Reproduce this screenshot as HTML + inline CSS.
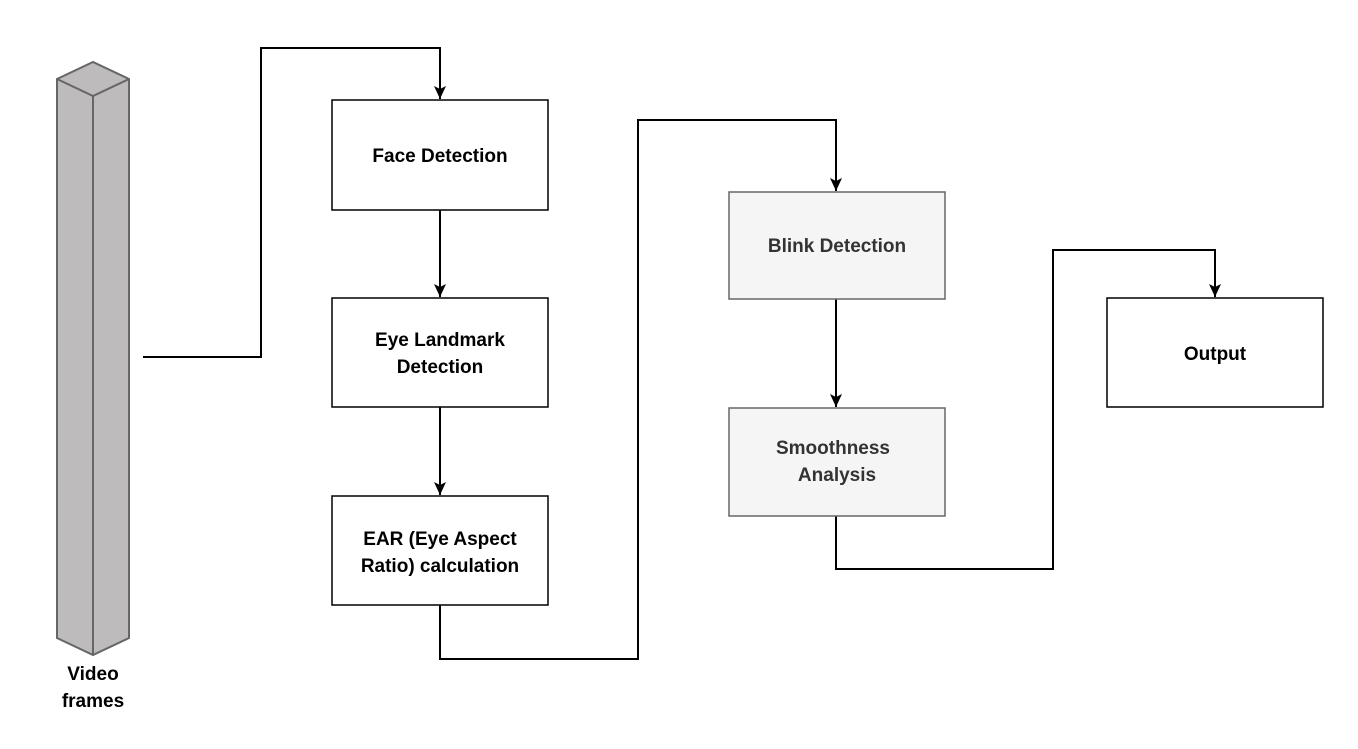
<!DOCTYPE html>
<html><head><style>
body{margin:0;background:#fff;}
svg text{font-family:"Liberation Sans",sans-serif;font-weight:bold;font-size:19px;text-anchor:middle;}
</style></head><body>
<svg width="1358" height="744" xmlns="http://www.w3.org/2000/svg">
<defs><marker id="a" markerWidth="14" markerHeight="12" refX="13" refY="6" orient="auto" markerUnits="userSpaceOnUse"><path d="M0,0 L13,6 L0,12 L3,6 Z" fill="#000"/></marker></defs>
<g stroke="#666" stroke-width="2" fill="#bdbbbc">
<path d="M57,79 L93,62 L129,79 L129,638 L93,655 L57,638 Z"/>
<path d="M57,79 L93,96 L129,79 M93,96 L93,655" fill="none"/>
</g>
<text x="93" y="680">Video</text><text x="93" y="707">frames</text>
<g fill="none" stroke="#000" stroke-width="2">
<path d="M143,357 H261 V48 H440 V99" marker-end="url(#a)"/>
<path d="M440,210 V297" marker-end="url(#a)"/>
<path d="M440,407 V495" marker-end="url(#a)"/>
<path d="M440,605 V659 H638 V120 H836 V191" marker-end="url(#a)"/>
<path d="M836,299 V407" marker-end="url(#a)"/>
<path d="M836,516 V569 H1053 V250 H1215 V297" marker-end="url(#a)"/>
</g>
<g stroke="#000" stroke-width="1.5" fill="#fff">
<rect x="332" y="100" width="216" height="110"/>
<rect x="332" y="298" width="216" height="109"/>
<rect x="332" y="496" width="216" height="109"/>
<rect x="1107" y="298" width="216" height="109"/>
</g>
<g stroke="#666" stroke-width="1.5" fill="#f5f5f5">
<rect x="729" y="192" width="216" height="107"/>
<rect x="729" y="408" width="216" height="108"/>
</g>
<text x="440" y="162">Face Detection</text>
<text x="440" y="346">Eye Landmark</text><text x="440" y="373">Detection</text>
<text x="440" y="545">EAR (Eye Aspect</text><text x="440" y="572">Ratio) calculation</text>
<text x="1215" y="360">Output</text>
<g fill="#333"><text x="837" y="252">Blink Detection</text>
<text x="833" y="454">Smoothness</text><text x="837" y="481">Analysis</text></g>
</svg>
</body></html>
